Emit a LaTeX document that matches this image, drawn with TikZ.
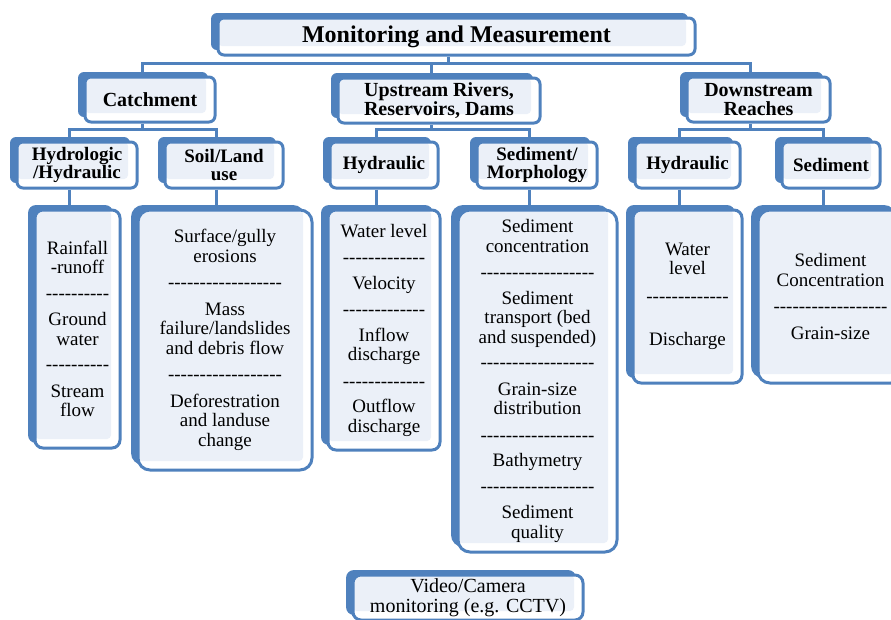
\documentclass[tikz,border=0pt]{standalone}
\usepackage{fontspec}
\setmainfont{Liberation Serif}[Ligatures=TeXOff]
\usetikzlibrary{shadows,backgrounds,positioning}
\definecolor{mblue}{RGB}{79,129,189}
\definecolor{mfill}{RGB}{235,240,248}

\begin{document}
\begin{tikzpicture}[x=1pt,y=-1pt,
    box/.style={rectangle,rounded corners=6pt,draw=mblue,line width=3pt,fill=white,
        general shadow={fill=mblue,shadow xshift=-7pt,shadow yshift=5pt},
        path picture={\fill[mfill,rounded corners=4pt] (path picture bounding box.north west) rectangle ([shift={(-9pt,9pt)}]path picture bounding box.south east);},
        align=center,inner sep=2pt},
    title node/.style={box,font=\fontsize{24}{26}\selectfont\bfseries,minimum width=477pt,minimum height=37pt},
    head node/.style={box,font=\fontsize{20}{19}\selectfont\bfseries,minimum height=45pt},
    sub node/.style={box,font=\fontsize{19}{18.5}\selectfont\bfseries,minimum height=46pt},
    list node/.style={box,rounded corners=8pt,font=\fontsize{19}{19.5}\selectfont},
    link/.style={draw=mblue,line width=3pt}]
    \useasboundingbox (0,0) rectangle (891,619);
    \clip (0,0) rectangle (891,619);

    \node[title node] (mm) at (456.5,36.5) {Monitoring and Measurement};

    \node[head node, minimum width=130pt] (catch) at (150,99.5) {Catchment};
    \node[head node, minimum width=202pt] (up) at (439,100.5) {Upstream Rivers,\\Reservoirs, Dams};
    \node[head node, minimum width=143pt] (down) at (758.5,99.5) {Downstream\\Reaches};

    \node[sub node, minimum width=120pt] (hydro) at (77,165) {Hydrologic\\/Hydraulic};
    \node[sub node, minimum width=118pt] (soil) at (224,165) {Soil/Land\\use};
    \node[sub node, minimum width=108pt] (uphyd) at (384,165) {Hydraulic};
    \node[sub node, minimum width=120pt] (upsed) at (537,165) {Sediment/\\Morphology};
    \node[sub node, minimum width=105pt] (dnhyd) at (687.5,165) {Hydraulic};
    \node[sub node, minimum width=98pt] (dnsed) at (831,165) {Sediment};

    \node[list node, minimum width=85pt, minimum height=238pt] (rain) at (77.5,329)
        {Rainfall\\-runoff\\[6pt]----------\\[7pt]Ground\\water\\[6pt]----------\\[7pt]Stream\\flow};
    \node[list node, rounded corners=12pt, minimum width=174pt, minimum height=260pt] (erosion) at (225,340)
        {Surface/gully\\erosions\\[7pt]------------------\\[7pt]Mass\\failure/landslides\\and debris flow\\[7pt]------------------\\[7pt]Deforestration\\and landuse\\change};
    \node[list node, minimum width=112pt, minimum height=240pt] (flow) at (384,330)
        {Water level\\[7pt]-------------\\[6pt]Velocity\\[7pt]-------------\\[6pt]Inflow\\discharge\\[7pt]-------------\\[6pt]Outflow\\discharge};
    \node[list node, rounded corners=12pt, minimum width=159pt, minimum height=342pt] (sedlist) at (537.5,381)
        {Sediment\\concentration\\[7pt]------------------\\[6pt]Sediment\\transport (bed\\and suspended)\\[6pt]------------------\\[7pt]Grain-size\\distribution\\[7pt]------------------\\[6pt]Bathymetry\\[6pt]------------------\\[7pt]Sediment\\quality};
    \node[list node, minimum width=109pt, minimum height=173pt] (level) at (687.5,296.5)
        {Water\\level\\[8pt]-------------\\[24pt]Discharge};
    \node[list node, rounded corners=12pt, minimum width=145pt, minimum height=173pt] (conc) at (830.5,296.5)
        {Sediment\\Concentration\\[7pt]------------------\\[7pt]Grain-size};

    \node[list node, minimum width=230pt, minimum height=45pt, font=\fontsize{20}{19.5}\selectfont] (video) at (468,597.5)
        {Video/Camera\\monitoring (e.g. CCTV)};

    \begin{pgfonlayer}{background}
        \coordinate (bus) at ([xshift=-8pt,yshift=-7pt]mm.south);
        \draw[link] ([xshift=-8pt]mm.south) -- (bus);
        \draw[link] ([xshift=-8pt]catch.north) |- (bus) -| ([xshift=-8pt]down.north);
        \draw[link] ([xshift=-8pt]up.north) -- ([xshift=-8pt]up.north |- bus);

        \coordinate (cbus) at ([xshift=-8pt,yshift=-6pt]catch.south);
        \coordinate (ubus) at ([xshift=-8pt,yshift=-5pt]up.south);
        \coordinate (dbus) at ([xshift=-8pt,yshift=-6pt]down.south);
        \draw[link] ([xshift=-8pt]catch.south) -- (cbus);
        \draw[link] ([xshift=-8pt]up.south) -- (ubus);
        \draw[link] ([xshift=-8pt]down.south) -- (dbus);
        \draw[link] ([xshift=-8pt]hydro.north) |- (cbus) -| ([xshift=-8pt]soil.north);
        \draw[link] ([xshift=-8pt]uphyd.north) |- (ubus) -| ([xshift=-8pt]upsed.north);
        \draw[link] ([xshift=-8pt]dnhyd.north) |- (dbus) -| ([xshift=-8pt]dnsed.north);

        \draw[link] ([xshift=-8pt]hydro.south) -- ([xshift=-8pt]hydro.south |- rain.north);
        \draw[link] ([xshift=-8pt]soil.south) -- ([xshift=-8pt]soil.south |- erosion.north);
        \draw[link] ([xshift=-8pt]uphyd.south) -- ([xshift=-8pt]uphyd.south |- flow.north);
        \draw[link] ([xshift=-8pt]upsed.south) -- ([xshift=-8pt]upsed.south |- sedlist.north);
        \draw[link] ([xshift=-8pt]dnhyd.south) -- ([xshift=-8pt]dnhyd.south |- level.north);
        \draw[link] ([xshift=-8pt]dnsed.south) -- ([xshift=-8pt]dnsed.south |- conc.north);
    \end{pgfonlayer}
\end{tikzpicture}
\end{document}
